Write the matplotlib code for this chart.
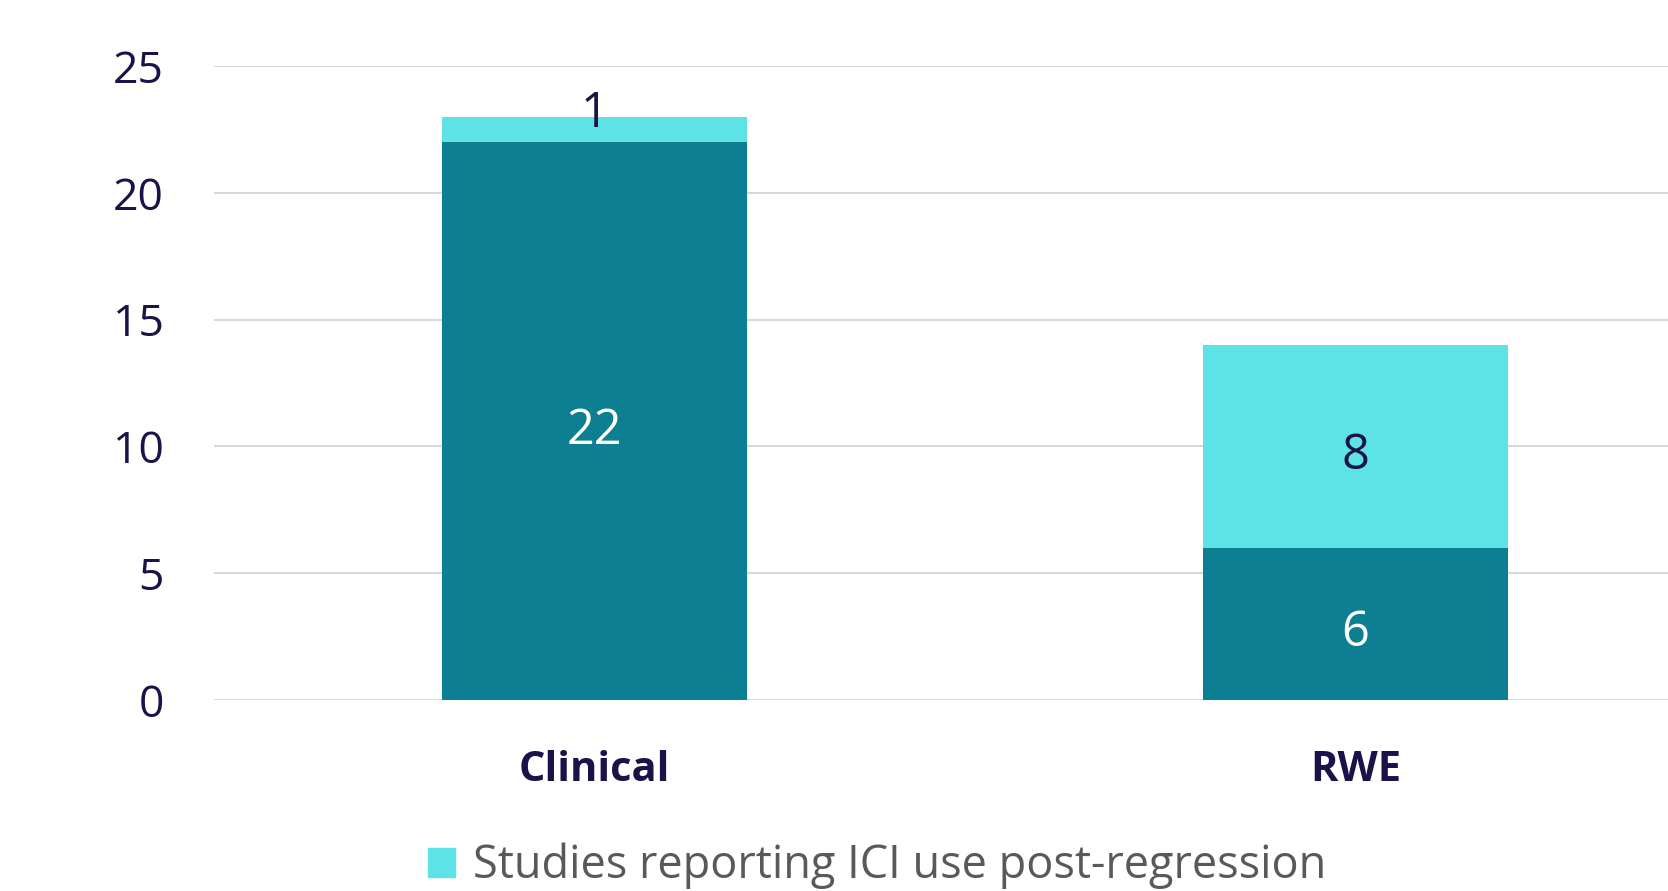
import numpy as np
import matplotlib
matplotlib.use('Agg')
import matplotlib.pyplot as plt
from matplotlib.patches import Patch

plt.rcParams['font.family'] = ['Open Sans', 'Noto Sans', 'DejaVu Sans']

#data
categories = ['Clinical', 'RWE']
no_ici = [22, 6]
ici_post = [1, 8]
legend_label = 'Studies reporting ICI use post-regression'
yticks = [0, 5, 10, 15, 20, 25]

dark = '#0c7f93'
light = '#5de3e6'
navy = '#1a1248'

fig = plt.figure(figsize=(16.68, 8.91), dpi=100)
ax = fig.add_axes([214/1668, 191/891, 1522/1668, 634/891])

x = np.arange(len(categories))
b1 = ax.bar(x, no_ici, width=0.4, color=dark, zorder=3)
b2 = ax.bar(x, ici_post, width=0.4, bottom=no_ici, color=light, zorder=3)

# labels in the middle of each segment
for i in range(len(categories)):
    ax.annotate(str(no_ici[i]), (x[i], no_ici[i] / 2), xytext=(0, -7),
                textcoords='offset points', ha='center', va='center',
                color='white', fontsize=35, zorder=4)
    y = no_ici[i] + ici_post[i] / 2
    off = -7
    if ici_post[i] < 2:
        y = no_ici[i] + ici_post[i] + 0.1
        off = 0
    ax.annotate(str(ici_post[i]), (x[i], y), xytext=(0, off),
                textcoords='offset points', ha='center', va='center',
                color=navy, fontsize=35, zorder=4)

ax.set_xlim(-0.5, 1.5)
ax.set_ylim(0, 25)
ax.set_yticks(yticks)
ax.set_xticks(x)
ax.set_xticklabels(categories, fontweight='bold', family=['Open Sans', 'DejaVu Sans'])
ax.tick_params(axis='y', labelsize=32, labelcolor=navy, length=0, pad=36)
ax.tick_params(axis='x', length=0, pad=36, labelsize=30, labelcolor=navy)
ax.grid(axis='y', color='#d9d9d9', linewidth=1.5, zorder=0)
for s in ax.spines.values():
    s.set_visible(False)

fig.legend(handles=[Patch(color=light, label=legend_label)], loc='center',
           bbox_to_anchor=(877/1668, 1 - 866/891), frameon=False, fontsize=32.5,
           labelcolor='#595959', handlelength=0.6, handleheight=0.6,
           handletextpad=0.4)

plt.savefig('out.png', dpi=100)
